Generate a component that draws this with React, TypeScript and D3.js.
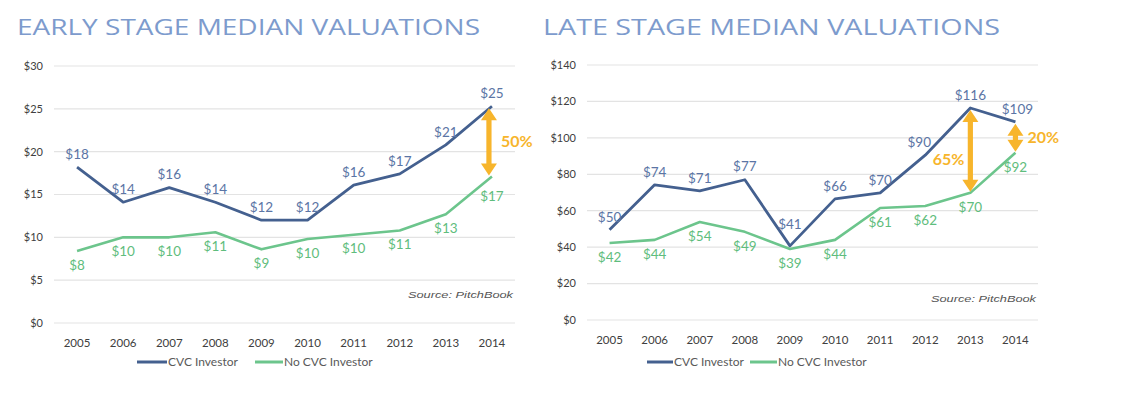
import React, { useEffect, useRef } from 'react';
import * as d3 from 'd3';

const years = ['2005', '2006', '2007', '2008', '2009', '2010', '2011', '2012', '2013', '2014'];

const earlyCvc = [18.2, 14.1, 15.8, 14.1, 12, 12, 16.1, 17.4, 20.8, 25.3];
const earlyNoCvc = [8.4, 10, 10, 10.6, 8.6, 9.8, 10.3, 10.8, 12.7, 17.1];
const earlyCvcLabels = ['$18', '$14', '$16', '$14', '$12', '$12', '$16', '$17', '$21', '$25'];
const earlyNoCvcLabels = ['$8', '$10', '$10', '$11', '$9', '$10', '$10', '$11', '$13', '$17'];
const earlyTicks = [0, 5, 10, 15, 20, 25, 30];

const lateCvc = [49.5, 74.2, 70.9, 77, 40.7, 66.5, 69.8, 90.5, 116.4, 108.8];
const lateNoCvc = [42.3, 44, 53.8, 48.4, 39, 44, 61.5, 62.6, 69.8, 91.8];
const lateCvcLabels = ['$50', '$74', '$71', '$77', '$41', '$66', '$70', '$90', '$116', '$109'];
const lateNoCvcLabels = ['$42', '$44', '$54', '$49', '$39', '$44', '$61', '$62', '$70', '$92'];
const lateTicks = [0, 20, 40, 60, 80, 100, 120, 140];

const seriesNames = ['CVC Investor', 'No CVC Investor'];

const BLUE = '#44608f';
const BLUE_TXT = '#5b75a5';
const GREEN = '#6cc58c';
const GREEN_TXT = '#5fbd7d';
const ORANGE = '#f7b52c';
const FONT = 'Lato, "Open Sans", sans-serif';

function App() {
  const ref = useRef(null);

  useEffect(() => {
    const svg = d3.select(ref.current);
    svg.selectAll('*').remove();

    const panel = (opt) => {
      const g = svg.append('g');
      const x = d3.scalePoint().domain(years).range([opt.x0, opt.x1]).padding(0.5);
      const y = d3.scaleLinear().domain([0, opt.max]).range([opt.y1, opt.y0]);

      g.append('text')
        .attr('x', opt.titleX)
        .attr('y', 35)
        .attr('textLength', opt.titleW)
        .attr('lengthAdjust', 'spacingAndGlyphs')
        .style('font-family', '"Open Sans", sans-serif')
        .style('font-weight', 400)
        .style('font-size', '22px')
        .attr('fill', '#7d9bcd')
        .text(opt.title);

      g.selectAll('.grid').data(opt.ticks).join('line')
        .attr('x1', opt.x0).attr('x2', opt.x1)
        .attr('y1', d => y(d)).attr('y2', d => y(d))
        .attr('stroke', '#e3e3e3').attr('stroke-width', 1.2);

      g.selectAll('.ytick').data(opt.ticks).join('text')
        .attr('x', opt.x0 - 11)
        .attr('y', d => y(d))
        .attr('dy', '0.35em')
        .attr('text-anchor', 'end')
        .style('font-family', FONT).style('font-size', '11px')
        .attr('fill', '#404040')
        .text(d => `$${d}`);

      g.selectAll('.xtick').data(years).join('text')
        .attr('x', d => x(d))
        .attr('y', opt.y1 + 20)
        .attr('dy', '0.35em')
        .attr('text-anchor', 'middle')
        .style('font-family', FONT).style('font-size', '11.5px')
        .attr('fill', '#404040')
        .text(d => d);

      g.append('text')
        .attr('x', opt.x1 - 2 - 105)
        .attr('y', y(opt.ticks[1]) + 18)
        .attr('textLength', 105)
        .attr('lengthAdjust', 'spacingAndGlyphs')
        .style('font-family', '"Liberation Sans", sans-serif')
        .style('font-style', 'italic').style('font-size', '9px')
        .attr('fill', '#555')
        .text('Source: PitchBook');

      const line = d3.line<number>().x((d, i) => x(years[i])).y(d => y(d));

      g.append('path').datum(opt.noCvc).attr('d', line)
        .attr('fill', 'none').attr('stroke', GREEN).attr('stroke-width', 2.6)
        .attr('stroke-linejoin', 'round');
      g.append('path').datum(opt.cvc).attr('d', line)
        .attr('fill', 'none').attr('stroke', BLUE).attr('stroke-width', 2.8)
        .attr('stroke-linejoin', 'round');

      g.selectAll('.lblc').data(opt.cvc).join('text')
        .attr('x', (d, i) => x(years[i]) + (opt.cvcDx[i] || 0))
        .attr('y', (d, i) => y(d) - (opt.cvcDy[i] || 13))
        .attr('dy', '0.35em')
        .attr('text-anchor', 'middle')
        .style('font-family', FONT).style('font-size', '13.5px')
        .attr('fill', BLUE_TXT)
        .text((d, i) => opt.cvcLabels[i]);

      g.selectAll('.lbln').data(opt.noCvc).join('text')
        .attr('x', (d, i) => x(years[i]))
        .attr('y', (d, i) => y(d) + (opt.noDy[i] || 14))
        .attr('dy', '0.35em')
        .attr('text-anchor', 'middle')
        .style('font-family', FONT).style('font-size', '13.5px')
        .attr('fill', GREEN_TXT)
        .text((d, i) => opt.noCvcLabels[i]);

      // double headed arrows
      opt.arrows.forEach(a => {
        const ax = x(years[a.i]) + (a.dx || 0);
        const top = y(opt.cvc[a.i]) + 2;
        const bot = y(opt.noCvc[a.i]) - 1;
        const hw = 8, hl = 12, sw = 2.6;
        const p = d3.path();
        p.moveTo(ax, top);
        p.lineTo(ax + hw, top + hl);
        p.lineTo(ax + sw, top + hl);
        p.lineTo(ax + sw, bot - hl);
        p.lineTo(ax + hw, bot - hl);
        p.lineTo(ax, bot);
        p.lineTo(ax - hw, bot - hl);
        p.lineTo(ax - sw, bot - hl);
        p.lineTo(ax - sw, top + hl);
        p.lineTo(ax - hw, top + hl);
        p.closePath();
        g.append('path').attr('d', p.toString()).attr('fill', ORANGE);
        g.append('text')
          .attr('x', a.left ? ax - 6 : ax + 12)
          .attr('y', (top + bot) / 2 + (a.dy || 0))
          .attr('dy', '0.35em')
          .attr('text-anchor', a.left ? 'end' : 'start')
          .style('font-family', FONT).style('font-weight', 700).style('font-size', '16px')
          .attr('fill', ORANGE)
          .text(a.label);
      });

      // legend
      const lg = g.append('g');
      opt.legend.forEach((l, k) => {
        lg.append('line')
          .attr('x1', l[0]).attr('x2', l[1]).attr('y1', 362).attr('y2', 362)
          .attr('stroke', k === 0 ? BLUE : GREEN).attr('stroke-width', 3);
        lg.append('text')
          .attr('x', l[1] + 1).attr('y', 362).attr('dy', '0.35em')
          .style('font-family', FONT).style('font-size', '12px')
          .attr('fill', '#595959')
          .text(seriesNames[k]);
      });
    };

    panel({
      title: 'EARLY STAGE MEDIAN VALUATIONS', titleX: 17, titleW: 463,
      x0: 54, x1: 515, y0: 66, y1: 323, max: 30, ticks: earlyTicks,
      cvc: earlyCvc, noCvc: earlyNoCvc, cvcLabels: earlyCvcLabels, noCvcLabels: earlyNoCvcLabels,
      cvcDx: [], cvcDy: [], noDy: { 9: 20 },
      arrows: [{ i: 9, dx: -3, label: '50%' }],
      legend: [[137, 167], [255, 283]],
    });

    panel({
      title: 'LATE STAGE MEDIAN VALUATIONS', titleX: 543, titleW: 457,
      x0: 587, x1: 1038, y0: 65, y1: 320, max: 140, ticks: lateTicks,
      cvc: lateCvc, noCvc: lateNoCvc, cvcLabels: lateCvcLabels, noCvcLabels: lateNoCvcLabels,
      cvcDx: { 7: -6, 9: 2 }, cvcDy: { 4: 22 }, noDy: { 9: 14, 2: 14 },
      arrows: [{ i: 8, label: '65%', left: true, dy: 8 }, { i: 9, label: '20%', dx: 0 }],
      legend: [[647, 673], [750, 777]],
    });
  }, []);

  return (
    <svg ref={ref} width={1140} height={394}
      style={{ position: 'absolute', left: 0, top: 0, background: '#fff' }} />
  );
}

export default App;
